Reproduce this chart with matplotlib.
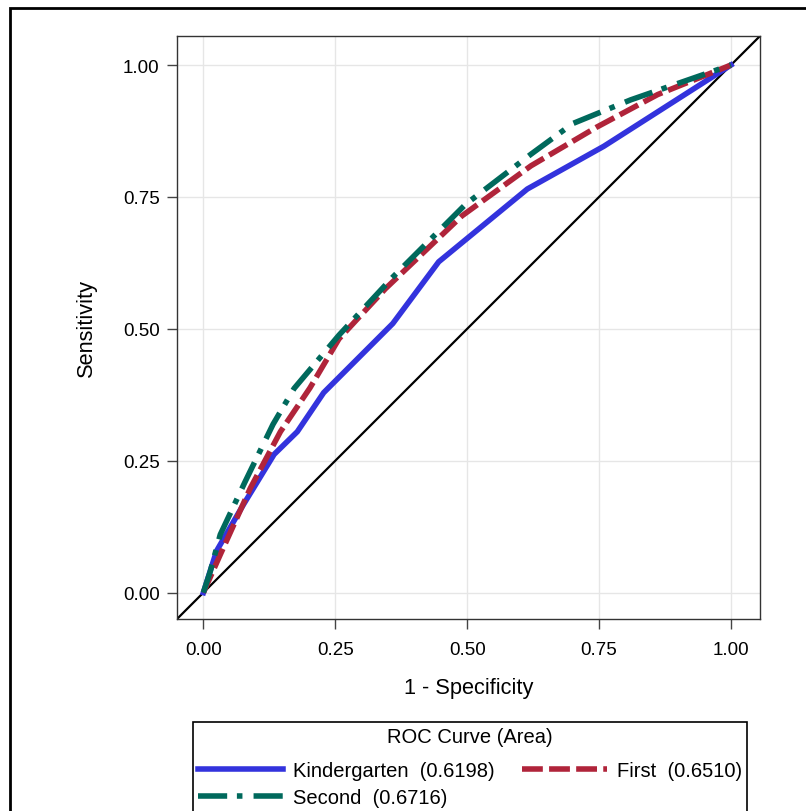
"""ROC curves by grade, SAS-style layout."""

import matplotlib.pyplot as plt
import matplotlib.patches as mpatches

plt.rcParams["font.family"] = ["Liberation Sans", "DejaVu Sans"]
plt.rcParams["lines.scale_dashes"] = False

# 1 - specificity / sensitivity points
kinder_x = [0.0, 0.025, 0.076, 0.134, 0.178, 0.228, 0.359, 0.446, 0.614, 0.759, 1.0]
kinder_y = [0.0, 0.079, 0.167, 0.262, 0.305, 0.379, 0.510, 0.627, 0.765, 0.846, 1.0]

first_x = [0.0, 0.032, 0.089, 0.146, 0.202, 0.257, 0.345, 0.490, 0.621, 0.745, 0.861, 1.0]
first_y = [0.0, 0.072, 0.198, 0.305, 0.388, 0.481, 0.576, 0.714, 0.809, 0.882, 0.944, 1.0]

second_x = [0.0, 0.013, 0.032, 0.079, 0.132, 0.172, 0.257, 0.359, 0.497, 0.621, 0.700, 0.810, 1.0]
second_y = [0.0, 0.040, 0.110, 0.210, 0.319, 0.387, 0.488, 0.598, 0.736, 0.831, 0.889, 0.934, 1.0]

labels = ["Kindergarten  (0.6198)", "First  (0.6510)", "Second  (0.6716)"]
ticks = [0.0, 0.25, 0.5, 0.75, 1.0]
tick_labels = ["0.00", "0.25", "0.50", "0.75", "1.00"]

W, H = 806, 812
fig = plt.figure(figsize=(W / 100, H / 100), dpi=100)
fig.patch.set_facecolor("white")

# outer frame (runs off the right and bottom edges)
fig.patches.append(
    mpatches.Rectangle(
        (10 / W, -0.05), 1.2, 1 - 9 / H + 0.05,
        transform=fig.transFigure, fill=False, edgecolor="black", linewidth=2,
    )
)

ax = fig.add_axes([177 / W, 1 - 620 / H, 583 / W, 583 / H])
lim = (-0.05, 1.055)
ax.set_xlim(lim)
ax.set_ylim(lim)

ax.plot(lim, lim, color="black", linewidth=1.6, zorder=2)

(l_k,) = ax.plot(kinder_x, kinder_y, color="#3333DD", linewidth=4,
                 solid_joinstyle="round", zorder=3)
(l_f,) = ax.plot(first_x, first_y, color="#B0243A", linewidth=4,
                 dashes=(15, 4.5), zorder=4)
(l_s,) = ax.plot(second_x, second_y, color="#00695C", linewidth=4,
                 dashes=(21, 7, 4, 8), zorder=5)

ax.set_xticks(ticks)
ax.set_yticks(ticks)
ax.set_xticklabels(tick_labels)
ax.set_yticklabels(tick_labels)
ax.tick_params(length=7.5, width=1, color="#444444", labelsize=13.5)
ax.tick_params(axis="x", pad=8)
ax.tick_params(axis="y", pad=5)
ax.grid(True, color="#E6E6E6", linewidth=1)
ax.set_axisbelow(True)
for sp in ax.spines.values():
    sp.set_color("#333333")
    sp.set_linewidth(1)

ax.set_xlabel("1 - Specificity", fontsize=15.7, labelpad=14)
ax.set_ylabel("Sensitivity", fontsize=15.7, labelpad=19)

leg = fig.legend(
    handles=[l_k, l_s, l_f],
    labels=[labels[0], labels[2], labels[1]],
    title="ROC Curve (Area)",
    ncol=2,
    loc="upper left",
    bbox_to_anchor=(193 / W, 1 - 723 / H, 554 / W, 0.0),
    mode="expand",
    fontsize=14.5,
    title_fontsize=14.5,
    handlelength=4.2,
    handletextpad=0.5,
    labelspacing=0.4,
    borderpad=0.25,
    borderaxespad=0,
    fancybox=False,
    framealpha=1,
    edgecolor="black",
)
leg.get_frame().set_linewidth(1.2)
# wider gap between the legend title and the entries
leg._legend_box.sep = 10.8

fig.savefig("out.png", dpi=100)
